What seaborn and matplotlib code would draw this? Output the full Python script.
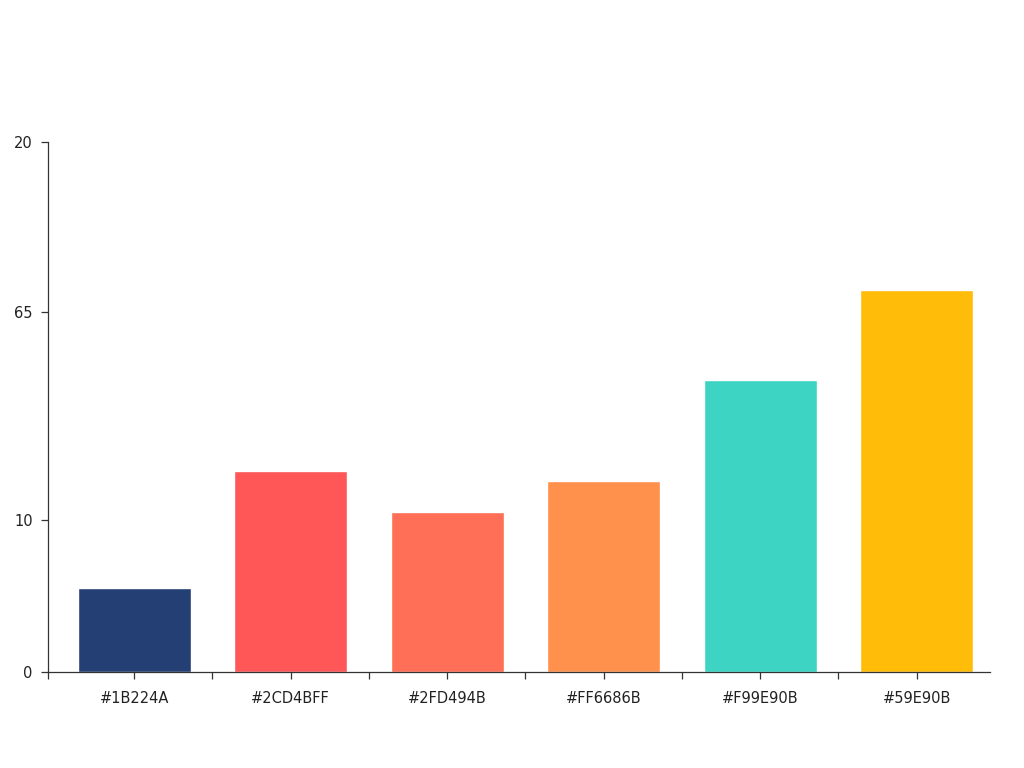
import numpy as np
import pandas as pd
import seaborn as sns
from matplotlib import pyplot as plt

# values (axis runs 0..20 in its own units)
categories = ["#1B224A", "#2CD4BFF", "#2FD494B", "#FF6686B", "#F99E90B", "#59E90B"]
values = [3.17, 7.58, 6.04, 7.21, 11.02, 14.42]
bar_colors = ["#233F74", "#FF5757", "#FF6F57", "#FF914D", "#3DD4C4", "#FFBD0A"]
ytick_pos = [0, 5.74, 13.58, 20]
ytick_labels = ["0", "10", "65", "20"]

df = pd.DataFrame({"cat": categories, "val": values})

sns.set_style("white")
plt.rcParams["font.family"] = ["DejaVu Sans"]

fig = plt.figure(figsize=(10.24, 7.68), dpi=100)
ax = fig.add_axes([0.047, 0.125, 0.92, 0.69])

sns.barplot(
    df,
    x="cat",
    y="val",
    hue="cat",
    palette=bar_colors,
    width=0.72,
    saturation=1,
    legend=False,
    ax=ax
)

ax.set_xlim(-0.55, 5.47)
ax.set_ylim(0, 20)
ax.set_yticks(ytick_pos)
ax.set_yticklabels(ytick_labels)
ax.set_xticks(np.arange(len(categories)))
ax.set_xticklabels(categories)
ax.set_xticks([-0.55, 0.5, 1.5, 2.5, 3.5, 4.5], minor=True)

ax.tick_params(axis="both", which="both", direction="out", length=5,
               width=0.9, color="#333333", labelsize=10.5, labelcolor="#222222",
               bottom=True, left=True)
ax.tick_params(axis="x", which="major", pad=9)
ax.tick_params(axis="y", pad=6)

sns.despine(ax=ax)
for s in ["left", "bottom"]:
    ax.spines[s].set_color("#333333")
    ax.spines[s].set_linewidth(0.9)

ax.set_xlabel("")
ax.set_ylabel("")

fig.savefig("out.png", dpi=100)
